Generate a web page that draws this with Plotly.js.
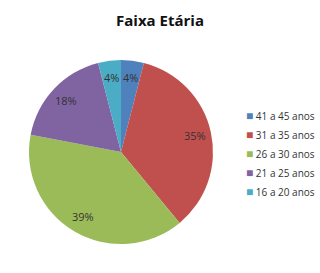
<!DOCTYPE html>
<html>
<head>
<meta charset="utf-8">
<script src="https://cdn.plot.ly/plotly-3.0.1.min.js"></script>
<style>
  html, body { margin: 0; padding: 0; background: #fff; }
  #chart { width: 320px; height: 273px; }
</style>
</head>
<body>
<div id="chart"></div>
<script>
// Age bands and their share of respondents (%)
const faixas = ['41 a 45 anos', '31 a 35 anos', '26 a 30 anos', '21 a 25 anos', '16 a 20 anos'];
const percentuais = [4, 35, 39, 18, 4];
const cores = ['#4F81BD', '#C0504D', '#9BBB59', '#8064A2', '#4BACC6'];

const W = 320, H = 273;
const dominioX = [0.0906, 0.6656];
const dominioY = [0.106, 0.780];

const trace = {
  type: 'pie',
  labels: faixas,
  values: percentuais,
  sort: false,
  direction: 'clockwise',
  rotation: 0,
  marker: { colors: cores, line: { width: 0 } },
  textinfo: 'none',
  domain: { x: dominioX, y: dominioY },
  hoverinfo: 'label+percent'
};

// Percentage labels placed along each slice's bisector, at 82% of the radius
const fonte = 'Open Sans, sans-serif';
const total = percentuais.reduce((a, b) => a + b, 0);
const cx = (dominioX[0] + dominioX[1]) / 2;
const cy = (dominioY[0] + dominioY[1]) / 2;
const raioPx = Math.min((dominioX[1] - dominioX[0]) * W, (dominioY[1] - dominioY[0]) * H) / 2;
const anotacoes = [];
let acumulado = 0;
percentuais.forEach((v) => {
  const meio = (acumulado + v / 2) / total * 2 * Math.PI;
  acumulado += v;
  const r = raioPx * 0.82;
  anotacoes.push({
    xref: 'paper', yref: 'paper',
    x: cx + r * Math.sin(meio) / W,
    y: cy + r * Math.cos(meio) / H,
    xanchor: 'center', yanchor: 'middle',
    text: Math.round(v / total * 100) + '%',
    showarrow: false,
    font: { family: fonte, size: 11, color: '#333333' }
  });
});

// Legend: coloured square followed by the age band
const legTopo = 115, legPasso = 19, legX = 244;
faixas.forEach((f, i) => {
  anotacoes.push({
    xref: 'paper', yref: 'paper',
    x: legX / W, y: 1 - (legTopo + i * legPasso) / H,
    xanchor: 'left', yanchor: 'middle',
    text: '<span style="color:' + cores[i] + ';font-size:12px">■</span> ' + f,
    showarrow: false,
    font: { family: fonte, size: 10, color: '#333333' }
  });
});

const layout = {
  width: W,
  height: H,
  margin: { l: 0, r: 0, t: 0, b: 0, autoexpand: false },
  paper_bgcolor: '#ffffff',
  title: {
    text: '<b>Faixa Etária</b>',
    font: { family: fonte, size: 15, color: '#111111' },
    x: 0.5, xanchor: 'center', y: 0.924, yanchor: 'middle'
  },
  showlegend: false,
  annotations: anotacoes
};

Plotly.newPlot('chart', [trace], layout, { staticPlot: true });
</script>
</body>
</html>
